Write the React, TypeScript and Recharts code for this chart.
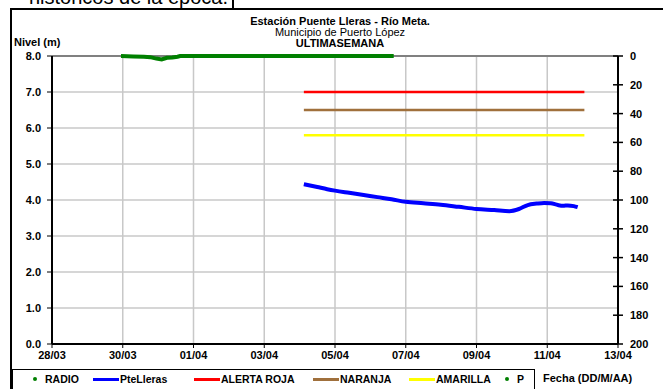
import React from "react";
import {
  ComposedChart,
  Line,
  XAxis,
  YAxis,
  CartesianGrid,
  ReferenceLine,
} from "recharts";

// time axis: days counted from 28/03 00:00
const dateTicks = [0, 2, 4, 6, 8, 10, 12, 14, 16];
const dateLabels = ["28/03", "30/03", "01/04", "03/04", "05/04", "07/04", "09/04", "11/04", "13/04"];
const levelTicks = [0, 1, 2, 3, 4, 5, 6, 7, 8];
const precipTicks = [0, 20, 40, 60, 80, 100, 120, 140, 160, 180, 200];

// PteLleras water level (m)
const levelTimes = [7.12, 7.5, 7.78, 8.0, 8.4, 8.81, 9.2, 9.6, 10.0, 10.5, 10.99, 11.5, 12.0, 12.5, 12.93, 13.2, 13.45, 13.7, 13.91, 14.1, 14.3, 14.45, 14.58, 14.75, 14.86];
const levelValues = [4.44, 4.36, 4.3, 4.26, 4.2, 4.14, 4.08, 4.02, 3.95, 3.91, 3.87, 3.81, 3.75, 3.72, 3.69, 3.75, 3.86, 3.9, 3.92, 3.91, 3.86, 3.84, 3.85, 3.83, 3.8];

// P precipitation (mm, right axis)
const precipTimes = [1.95, 2.3, 2.6, 2.78, 2.95, 3.1, 3.25, 3.4, 3.55, 3.62, 4.5, 6.0, 7.5, 9.0, 9.66];
const precipValues = [0, 0.3, 0.5, 0.8, 1.8, 2.4, 1.2, 1.0, 0.5, 0, 0, 0, 0, 0, 0];

// alert thresholds (m)
const alertStart = 7.12;
const alertEnd = 15.05;
const alertRoja = 7.0;
const alertNaranja = 6.5;
const alertAmarilla = 5.8;

const FONT = "'Liberation Sans', Arial, sans-serif";

const levelData = levelTimes.map((t, i) => ({ t, v: levelValues[i] }));
const precipData = precipTimes.map((t, i) => ({ t, v: precipValues[i] }));
const flat = (v: number) => [
  { t: alertStart, v },
  { t: alertEnd, v },
];

function RightTick(props: any) {
  const { x, y, payload } = props;
  return (
    <g>
      <line x1={x - 5} x2={x + 5} y1={y} y2={y} stroke="#000" strokeWidth={1.5} />
      <text x={x + 12} y={y} dy={4} fontSize={11} fontWeight="bold" fill="#000" fontFamily={FONT}>
        {payload.value}
      </text>
    </g>
  );
}

const legendItems = [
  { label: "RADIO", color: "#008000", kind: "dot", left: 18 },
  { label: "PteLleras", color: "#0000ff", kind: "line", left: 80 },
  { label: "ALERTA ROJA", color: "#ff0000", kind: "line", left: 181 },
  { label: "NARANJA", color: "#a0703c", kind: "line", left: 300 },
  { label: "AMARILLA", color: "#ffff00", kind: "line", left: 396 },
  { label: "P", color: "#008000", kind: "dot", left: 490 },
];

export default function App() {
  const tickStyle = { fontSize: 11, fontWeight: "bold" as const, fill: "#000", fontFamily: FONT };
  return (
    <div style={{ position: "absolute", left: 0, top: 0, width: 663, height: 389, overflow: "hidden", background: "#fff", fontFamily: FONT }}>
      <div style={{ position: "absolute", left: -200, width: 428, top: -14, fontSize: 20, textAlign: "right", whiteSpace: "nowrap", color: "#000" }}>
        históricos de la época.
      </div>
      <div style={{ position: "absolute", left: 232, top: 0, width: 2, height: 9, background: "#000" }} />
      <div style={{ position: "absolute", left: 10, top: 8, width: 700, height: 400, border: "2px solid #000", boxSizing: "border-box" }} />

      <div style={{ position: "absolute", left: 0, top: 0 }}>
        <ComposedChart width={663} height={389} margin={{ top: 56, right: 0, bottom: 25, left: 0 }}>
          <CartesianGrid yAxisId="left" xAxisId="x" stroke="#c8c8c8" strokeWidth={1.5} />
          <XAxis
            xAxisId="x"
            type="number"
            dataKey="t"
            domain={[0, 16]}
            ticks={dateTicks}
            allowDataOverflow
            tickFormatter={(v) => dateLabels[dateTicks.indexOf(v)] ?? ""}
            tick={tickStyle}
            tickSize={4}
            tickMargin={3}
            height={20}
            stroke="#000"
            axisLine={{ stroke: "#000", strokeWidth: 2 }}
            interval={0}
          />
          <YAxis
            yAxisId="left"
            domain={[0, 8]}
            ticks={levelTicks}
            tickFormatter={(v) => Number(v).toFixed(1)}
            tick={tickStyle}
            width={52}
            tickSize={5}
            tickMargin={6}
            stroke="#000"
            axisLine={{ stroke: "#000", strokeWidth: 2 }}
            interval={0}
          />
          <YAxis
            yAxisId="right"
            orientation="right"
            domain={[0, 200]}
            reversed
            ticks={precipTicks}
            tick={<RightTick />}
            tickLine={false}
            tickSize={0}
            tickMargin={0}
            width={45}
            axisLine={{ stroke: "#000", strokeWidth: 2 }}
            interval={0}
          />
          <ReferenceLine yAxisId="left" xAxisId="x" y={8} stroke="#808080" strokeWidth={2} />
          <Line xAxisId="x" yAxisId="left" data={flat(alertRoja)} dataKey="v" stroke="#ff0000" strokeWidth={2.5} dot={false} isAnimationActive={false} />
          <Line xAxisId="x" yAxisId="left" data={flat(alertNaranja)} dataKey="v" stroke="#a0703c" strokeWidth={2.5} dot={false} isAnimationActive={false} />
          <Line xAxisId="x" yAxisId="left" data={flat(alertAmarilla)} dataKey="v" stroke="#ffff00" strokeWidth={2.5} dot={false} isAnimationActive={false} />
          <Line xAxisId="x" yAxisId="left" data={levelData} dataKey="v" stroke="#0000ff" strokeWidth={4} dot={false} type="monotone" isAnimationActive={false} />
          <Line xAxisId="x" yAxisId="right" data={precipData} dataKey="v" stroke="#008000" strokeWidth={4} dot={false} isAnimationActive={false} />
        </ComposedChart>
      </div>

      <div style={{ position: "absolute", left: 200, width: 280, top: 16, textAlign: "center", fontSize: 11, lineHeight: "11px", color: "#000" }}>
        <div style={{ fontWeight: "bold" }}>Estación Puente Lleras - Río Meta.</div>
        <div>Municipio de Puerto López</div>
        <div style={{ fontWeight: "bold" }}>ULTIMASEMANA</div>
      </div>
      <div style={{ position: "absolute", left: 14, top: 36, fontSize: 11, fontWeight: "bold", color: "#000" }}>Nivel (m)</div>

      <div style={{ position: "absolute", left: 12, top: 369, width: 523, height: 30, border: "1px solid #000", boxSizing: "border-box" }}>
        {legendItems.map((it) => (
          <div key={it.label} style={{ position: "absolute", left: it.left, top: 3, display: "flex", alignItems: "center", fontSize: 10.5, fontWeight: "bold", color: "#000", whiteSpace: "nowrap" }}>
            {it.kind === "dot" ? (
              <span style={{ display: "inline-block", width: 4, height: 4, borderRadius: 2, background: it.color, margin: "0 8px 0 2px" }} />
            ) : (
              <span style={{ display: "inline-block", width: 26, height: 3, background: it.color, marginRight: 1 }} />
            )}
            {it.label}
          </div>
        ))}
      </div>
      <div style={{ position: "absolute", left: 543, top: 372, fontSize: 11, fontWeight: "bold", color: "#000", whiteSpace: "nowrap" }}>
        Fecha (DD/M/AA)
      </div>
    </div>
  );
}
